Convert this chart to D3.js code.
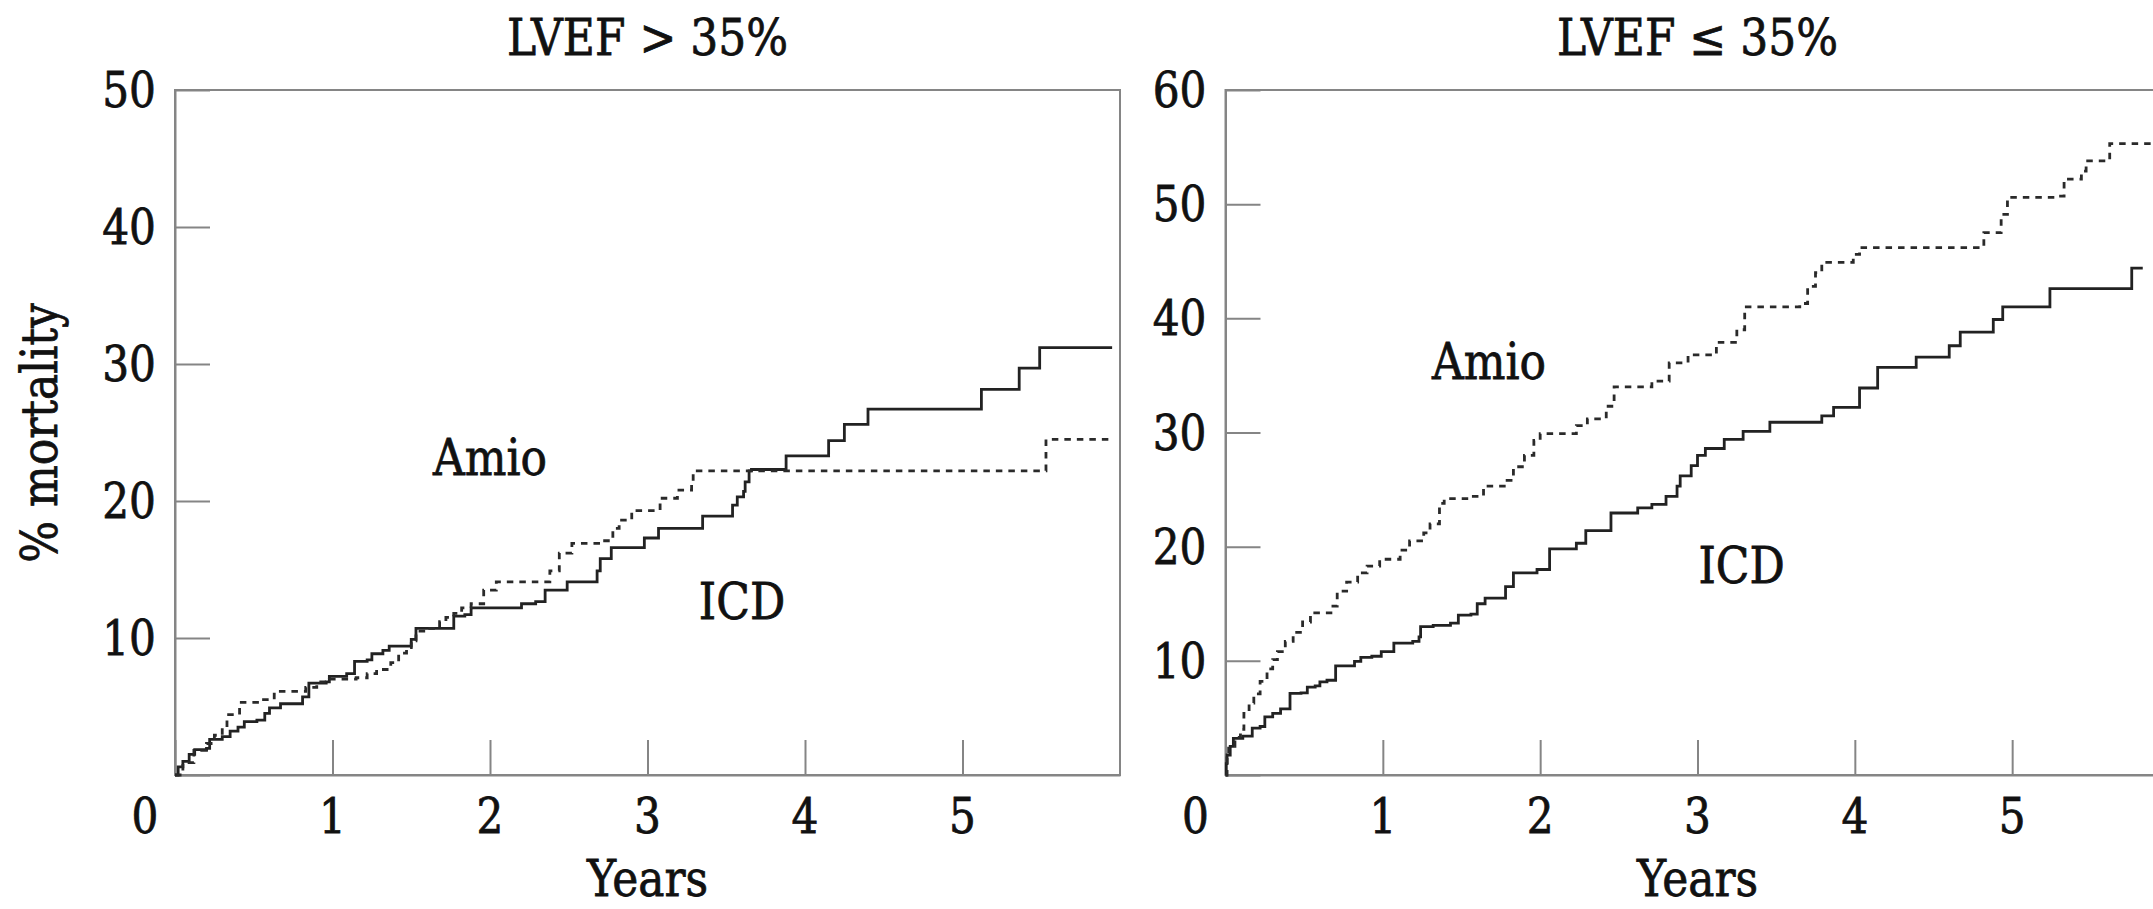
<!DOCTYPE html>
<html>
<head>
<meta charset="utf-8">
<script src="https://cdn.jsdelivr.net/npm/d3@7"></script>
<style>
  html, body { margin: 0; padding: 0; background: #fff; }
  svg { display: block; }
  text { font-family: "DejaVu Serif", serif; fill: #111; stroke: #111; stroke-width: 0.8; }
</style>
</head>
<body>
<svg id="chart" width="2153" height="909"></svg>
<script>
// ---- data (years since randomisation, % mortality) ----
const yearTicks = [0, 1, 2, 3, 4, 5];
const leftPctTicks = [0, 10, 20, 30, 40, 50];
const rightPctTicks = [0, 10, 20, 30, 40, 50, 60];
const titles = ['LVEF > 35%', 'LVEF \u2264 35%'];

const leftICD = [
  [0, 0], [0.02, 0.6], [0.05, 1.0], [0.09, 1.5], [0.125, 1.85], [0.2, 1.95], [0.22, 2.6],
  [0.3, 2.8], [0.35, 3.2], [0.4, 3.5], [0.44, 3.9], [0.52, 4.0], [0.57, 4.5], [0.6, 4.9],
  [0.67, 5.2], [0.81, 5.7], [0.85, 6.7], [0.96, 6.8], [0.98, 7.2], [1.09, 7.4], [1.14, 8.3],
  [1.22, 8.4], [1.25, 8.85], [1.32, 9.1], [1.36, 9.4], [1.5, 9.9], [1.53, 10.7], [1.77, 11.6],
  [1.84, 11.7], [1.88, 12.2], [2.2, 12.5], [2.29, 12.65], [2.35, 13.5], [2.49, 14.1],
  [2.68, 14.9], [2.7, 15.8], [2.77, 16.6], [2.98, 17.3], [3.07, 18.0], [3.35, 18.9],
  [3.54, 19.7], [3.57, 20.3], [3.61, 20.7], [3.62, 21.4], [3.645, 22.2], [3.66, 22.3],
  [3.88, 23.3], [4.15, 24.4], [4.25, 25.6], [4.4, 26.7], [5.12, 28.15], [5.36, 29.7],
  [5.49, 31.2], [5.95, 31.2]
];
const leftAmio = [
  [0, 0], [0.05, 0.9], [0.12, 1.8], [0.2, 2.3], [0.25, 2.9], [0.3, 3.5], [0.33, 4.4],
  [0.41, 5.3], [0.54, 5.5], [0.63, 5.9], [0.65, 6.1], [0.83, 6.4], [0.9, 6.8], [0.98, 7.0],
  [1.15, 7.1], [1.22, 7.4], [1.28, 7.7], [1.37, 8.2], [1.42, 8.9], [1.47, 9.3], [1.5, 9.8],
  [1.53, 10.5], [1.6, 10.7], [1.68, 11.2], [1.72, 11.5], [1.77, 11.8], [1.82, 12.2],
  [1.88, 12.5], [1.96, 13.5], [2.04, 14.1], [2.38, 14.9], [2.44, 16.2], [2.52, 16.9],
  [2.71, 17.1], [2.78, 18.0], [2.82, 18.6], [2.9, 19.3], [3.08, 20.2], [3.19, 20.8],
  [3.28, 21.4], [3.29, 22.2], [5.52, 22.2], [5.53, 24.5], [5.95, 24.5]
];
const rightICD = [
  [0, 0], [0.005, 1.0], [0.01, 1.75], [0.03, 2.5], [0.05, 3.2], [0.11, 3.4], [0.17, 4.1],
  [0.22, 4.25], [0.25, 5.1], [0.3, 5.4], [0.35, 5.8], [0.41, 7.15], [0.48, 7.2], [0.52, 7.7],
  [0.57, 7.8], [0.6, 8.15], [0.645, 8.3], [0.7, 9.55], [0.82, 9.95], [0.86, 10.3],
  [0.93, 10.4], [0.99, 10.8], [1.07, 11.55], [1.19, 11.7], [1.23, 12.1], [1.24, 13.0],
  [1.32, 13.1], [1.43, 13.3], [1.48, 14.0], [1.56, 14.1], [1.6, 15.0], [1.65, 15.5],
  [1.78, 16.5], [1.83, 17.7], [1.98, 18.0], [2.06, 19.8], [2.23, 20.3], [2.29, 21.4],
  [2.45, 22.95], [2.62, 23.4], [2.71, 23.7], [2.8, 24.4], [2.87, 25.3], [2.89, 26.2],
  [2.96, 27.1], [3.0, 28.0], [3.05, 28.6], [3.17, 29.4], [3.29, 30.1], [3.46, 30.9],
  [3.79, 31.45], [3.865, 32.2], [4.03, 33.9], [4.145, 35.7], [4.39, 36.6], [4.6, 37.6],
  [4.67, 38.8], [4.88, 39.9], [4.94, 41.0], [5.24, 42.6], [5.76, 44.4], [5.83, 44.4]
];
const rightAmio = [
  [0, 0], [0.01, 1.5], [0.02, 2.5], [0.06, 3.3], [0.095, 4.0], [0.117, 5.4], [0.15, 6.3],
  [0.18, 7.1], [0.22, 8.2], [0.264, 9.3], [0.3, 10.1], [0.33, 10.8], [0.38, 11.7],
  [0.43, 12.5], [0.49, 13.4], [0.54, 14.2], [0.67, 14.8], [0.71, 16.1], [0.77, 16.9],
  [0.84, 17.7], [0.9, 18.3], [0.98, 18.9], [1.11, 19.7], [1.17, 20.5], [1.26, 21.2],
  [1.3, 22.0], [1.36, 23.8], [1.39, 24.2], [1.55, 24.4], [1.64, 25.3], [1.79, 25.8],
  [1.83, 27.0], [1.9, 28.0], [1.96, 29.3], [2.0, 29.9], [2.23, 30.6], [2.3, 31.2],
  [2.42, 32.3], [2.47, 34.0], [2.71, 34.5], [2.82, 36.1], [2.94, 36.8], [3.12, 37.9],
  [3.25, 39.0], [3.3, 41.0], [3.65, 41.3], [3.7, 42.8], [3.75, 44.0], [3.79, 44.9],
  [3.99, 45.6], [4.03, 46.2], [4.76, 46.2], [4.82, 47.5], [4.93, 49.1], [4.97, 50.6],
  [5.29, 50.7], [5.33, 52.2], [5.44, 52.9], [5.47, 53.8], [5.61, 53.8], [5.62, 55.3],
  [5.9, 55.3]
];

// curve labels, in data units [years, pct]
const leftLabels = [['Amio', 2.0, 21.9], ['ICD', 3.6, 11.4]];
const rightLabels = [['Amio', 1.675, 34.7], ['ICD', 3.28, 16.8]];

// ---- layout ----
const svg = d3.select('#chart');
const plotTop = 90, plotBottom = 775;
const tickLen = 35;
const squeeze = 0.88; // narrow the serif glyphs a little
const axisGray = '#858585';

// text helper: horizontally condensed text anchored at (x, y)
function label(g, x, y, str, size, anchor, rotate) {
  const t = g.append('g')
    .attr('transform', `translate(${x},${y})` + (rotate ? ` rotate(${rotate})` : ''));
  t.append('text')
    .attr('transform', `scale(${squeeze},1)`)
    .attr('text-anchor', anchor || 'middle')
    .attr('font-size', size)
    .text(str);
  return t;
}

function panel(opts) {
  const g = svg.append('g');
  const x = d3.scaleLinear().domain([0, 6]).range([opts.left, opts.left + opts.width]);
  const y = d3.scaleLinear().domain([0, opts.yMax]).range([plotBottom, plotTop]);

  // frame
  g.append('rect')
    .attr('x', x(0)).attr('y', y(opts.yMax))
    .attr('width', x(6) - x(0)).attr('height', y(0) - y(opts.yMax))
    .attr('fill', 'none').attr('stroke', axisGray).attr('stroke-width', 2);

  // ticks pointing inward
  const xa = g.append('g').attr('transform', `translate(0,${y(0)})`)
    .call(d3.axisBottom(x).tickValues(yearTicks).tickSizeInner(-tickLen).tickSizeOuter(0).tickFormat(''));
  const ya = g.append('g').attr('transform', `translate(${x(0)},0)`)
    .call(d3.axisLeft(y).tickValues(opts.yTicks).tickSizeInner(-tickLen).tickSizeOuter(0).tickFormat(''));
  [xa, ya].forEach(a => {
    a.select('.domain').attr('stroke', axisGray).attr('stroke-width', 2);
    a.selectAll('.tick line').attr('stroke', axisGray).attr('stroke-width', 2);
  });

  // tick labels
  yearTicks.filter(d => d > 0).forEach(d => label(g, x(d), 833, String(d), 48));
  label(g, x(0) - 30, 833, '0', 48);
  opts.yTicks.filter(d => d > 0).forEach(d => label(g, x(0) - 19, y(d) + 17, String(d), 48, 'end'));

  // titles
  label(g, (x(0) + x(6)) / 2, 55, opts.title, 50);
  label(g, (x(0) + x(6)) / 2, 896, 'Years', 50);

  // survival steps
  const line = d3.line().x(d => x(d[0])).y(d => y(d[1])).curve(d3.curveStepAfter);
  g.append('path').datum(opts.icd).attr('d', line)
    .attr('fill', 'none').attr('stroke', '#222').attr('stroke-width', 2.8)
    .attr('stroke-linejoin', 'miter');
  g.append('path').datum(opts.amio).attr('d', line)
    .attr('fill', 'none').attr('stroke', '#2a2a2a').attr('stroke-width', 2.8)
    .attr('stroke-dasharray', '6.5,6');

  opts.labels.forEach(([s, a, b]) => label(g, x(a), y(b), s, 50));
  return { x, y };
}

panel({ left: 175, width: 945, yMax: 50, yTicks: leftPctTicks, title: titles[0],
        icd: leftICD, amio: leftAmio, labels: leftLabels });
panel({ left: 1225.5, width: 944, yMax: 60, yTicks: rightPctTicks, title: titles[1],
        icd: rightICD, amio: rightAmio, labels: rightLabels });

// y axis title, left panel only
label(svg, 57, 433, '% mortality', 50, 'middle', -90);
</script>
</body>
</html>
